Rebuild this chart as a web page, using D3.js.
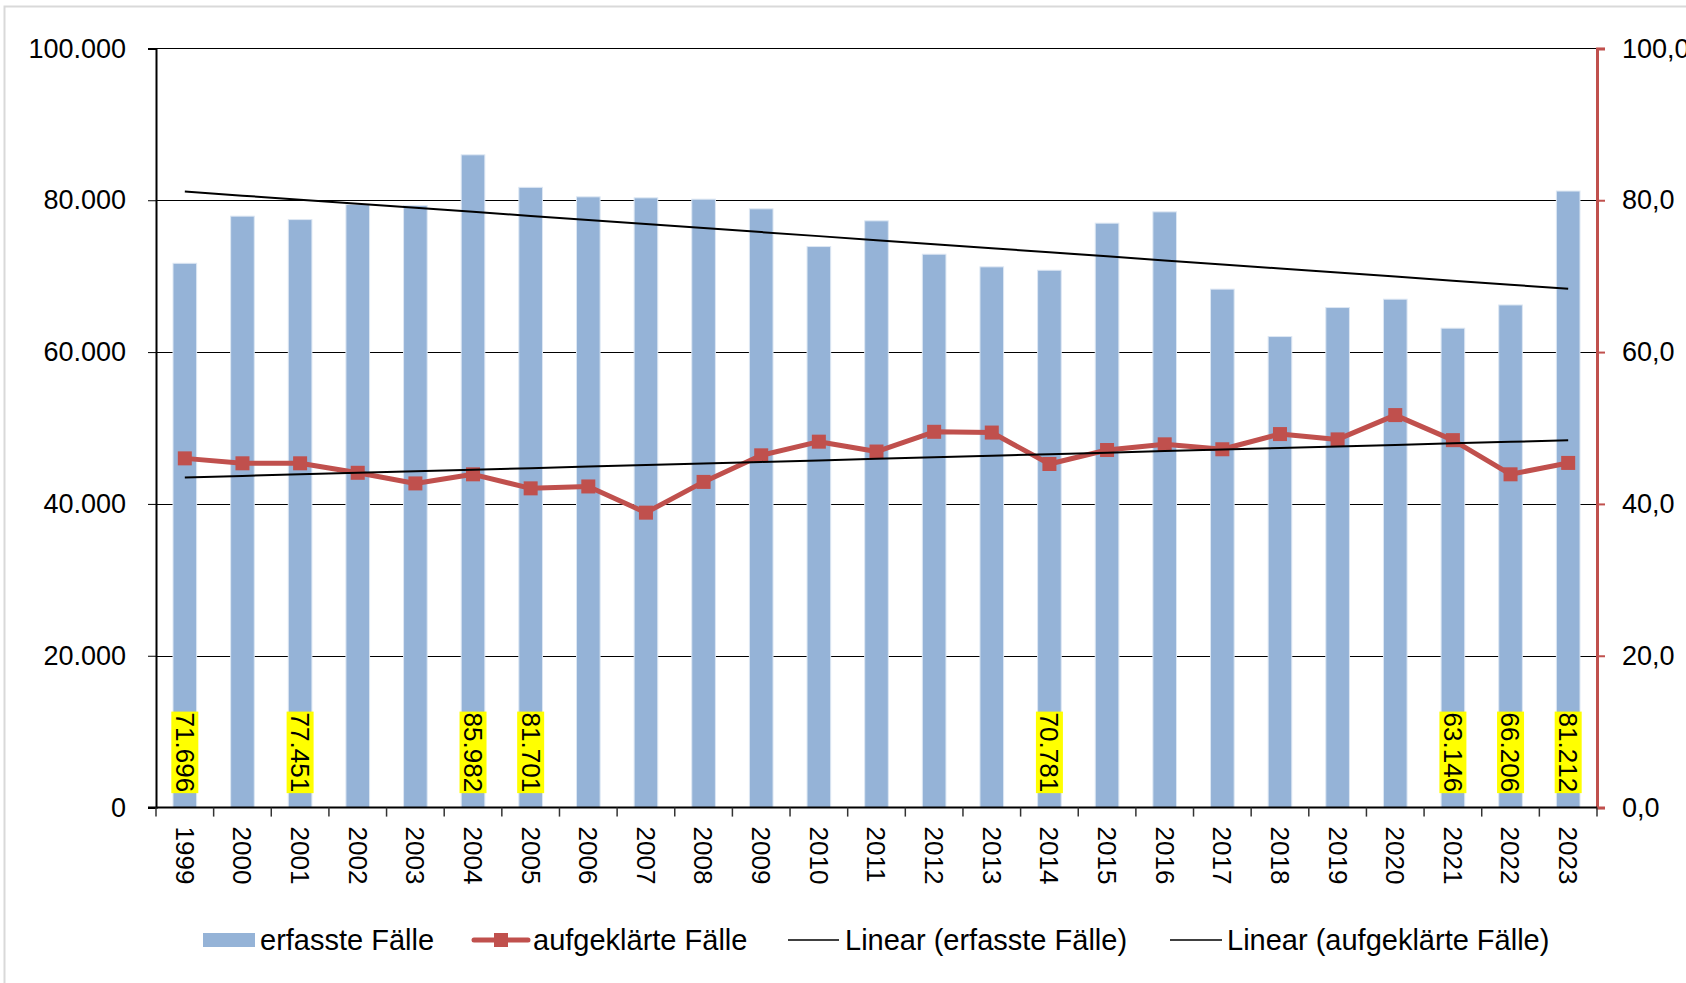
<html>
  <head>
    <script src="https://d3js.org/d3.v7.min.js"></script>
    <style>
      body { margin: 0; background: white; }
      svg { font-family: "Liberation Sans", Arial, sans-serif; }
      .grid line { stroke: black; stroke-width: 1; shape-rendering: crispEdges; }
    </style>
  </head>
  <body>
    <script type="text/javascript">
      // input data
      var years = ["1999", "2000", "2001", "2002", "2003", "2004", "2005", "2006", "2007", "2008",
                   "2009", "2010", "2011", "2012", "2013", "2014", "2015", "2016", "2017", "2018",
                   "2019", "2020", "2021", "2022", "2023"];
      var erfasst = [71696, 77905, 77451, 79437, 79305, 85982, 81701, 80448, 80316, 80140,
                     78867, 73900, 77286, 72890, 71225, 70781, 76980, 78470, 68290, 62045,
                     65866, 66965, 63146, 66206, 81212];
      var aufgeklaert = [46.0, 45.35, 45.35, 44.1, 42.7, 43.9, 42.05, 42.3, 38.85, 42.9,
                         46.4, 48.2, 46.9, 49.5, 49.4, 45.26, 47.1, 47.85, 47.2, 49.2,
                         48.5, 51.7, 48.4, 43.9, 45.4];
      // years whose bar value is printed
      var labelledYears = ["1999", "2001", "2004", "2005", "2014", "2021", "2022", "2023"];
      var leftTicks = [0, 20000, 40000, 60000, 80000, 100000];
      var rightTicks = [0, 20, 40, 60, 80, 100];
      var legendNames = ["erfasste Fälle", "aufgeklärte Fälle", "Linear (erfasste Fälle)", "Linear (aufgeklärte Fälle)"];

      var width = 1686;
      var height = 983;
      var plot = {left: 156, right: 1597, top: 48.4, bottom: 807.6};

      var barColor = "#95b3d7";
      var lineColor = "#c0504d";

      var de = d3.formatLocale({decimal: ",", thousands: ".", grouping: [3], currency: ["", " €"]});
      var fmtInt = de.format(",.0f");
      var fmtOne = de.format(".1f");

      var svg = d3.select("body").append("svg")
        .attr("width", width)
        .attr("height", height);

      // outer chart border
      svg.append("rect")
        .attr("x", 4.5).attr("y", 6.5)
        .attr("width", 1690).attr("height", 1000)
        .attr("fill", "white")
        .attr("stroke", "#d9d9d9")
        .attr("stroke-width", 2);

      var x = d3.scaleBand()
        .domain(years)
        .range([plot.left, plot.right])
        .padding(0);

      var y = d3.scaleLinear()
        .domain([0, 100000])
        .range([plot.bottom, plot.top]);

      var y2 = d3.scaleLinear()
        .domain([0, 100])
        .range([plot.bottom, plot.top]);

      var bw = x.bandwidth();
      var barW = bw * 0.41;

      // gridlines
      var gridAxis = d3.axisLeft(y)
        .tickValues(leftTicks.slice(1))
        .tickFormat("")
        .tickSize(-(plot.right - plot.left));
      var grid = svg.append("g")
        .attr("class", "grid")
        .attr("transform", "translate(" + plot.left + ",0)")
        .call(gridAxis);
      grid.select(".domain").remove();

      // bars
      svg.append("g").selectAll("rect")
        .data(years)
        .enter().append("rect")
        .attr("x", (d, i) => x(d) + (bw - barW) / 2)
        .attr("y", (d, i) => y(erfasst[i]))
        .attr("width", barW)
        .attr("height", (d, i) => y(0) - y(erfasst[i]))
        .attr("fill", barColor)
        .attr("stroke", "#dde7f3")
        .attr("stroke-width", 1);

      // data labels inside the bars
      var labels = svg.append("g");
      years.forEach(function (yr, i) {
        if (labelledYears.indexOf(yr) < 0) return;
        var cx = x(yr) + bw / 2;
        var g = labels.append("g")
          .attr("transform", "translate(" + cx + "," + (plot.bottom - 96) + ") rotate(90)");
        var t = g.append("text")
          .text(fmtInt(erfasst[i]))
          .attr("x", 1)
          .attr("y", 0)
          .attr("dy", "0.35em")
          .attr("font-size", "26px")
          .attr("fill", "black");
        var len = t.node().getComputedTextLength();
        g.insert("rect", "text")
          .attr("x", 0)
          .attr("y", -13.5)
          .attr("width", len + 2)
          .attr("height", 27)
          .attr("fill", "#ffff00");
      });

      // trend lines (least squares, like the spreadsheet's linear trend)
      function linearFit(values) {
        var mx = d3.mean(values, (v, i) => i);
        var my = d3.mean(values);
        var sxy = d3.sum(values, (v, i) => (i - mx) * (v - my));
        var sxx = d3.sum(values, (v, i) => (i - mx) * (i - mx));
        var b = sxy / sxx;
        var a = my - b * mx;
        return values.map((v, i) => a + b * i);
      }

      var trendErf = linearFit(erfasst);
      var trendAuf = linearFit(aufgeklaert);

      var lineLeft = d3.line()
        .x((d, i) => x(years[i]) + bw / 2)
        .y(d => y(d));
      var lineRight = d3.line()
        .x((d, i) => x(years[i]) + bw / 2)
        .y(d => y2(d));

      svg.append("path")
        .datum(trendErf)
        .attr("fill", "none")
        .attr("stroke", "black")
        .attr("stroke-width", 2)
        .attr("d", lineLeft);

      // aufgeklaerte line with square markers
      svg.append("path")
        .datum(aufgeklaert)
        .attr("fill", "none")
        .attr("stroke", lineColor)
        .attr("stroke-width", 5)
        .attr("stroke-linejoin", "round")
        .attr("d", lineRight);

      svg.append("g").selectAll("rect")
        .data(aufgeklaert)
        .enter().append("rect")
        .attr("x", (d, i) => x(years[i]) + bw / 2 - 7)
        .attr("y", d => y2(d) - 7)
        .attr("width", 14)
        .attr("height", 14)
        .attr("fill", lineColor);

      svg.append("path")
        .datum(trendAuf)
        .attr("fill", "none")
        .attr("stroke", "black")
        .attr("stroke-width", 2)
        .attr("d", lineRight);

      // left axis
      var yAxis = d3.axisLeft(y)
        .tickValues(leftTicks)
        .tickFormat(fmtInt)
        .tickSize(8)
        .tickPadding(22);
      var yAxisGroup = svg.append("g")
        .attr("transform", "translate(" + plot.left + ",0)")
        .call(yAxis);
      yAxisGroup.select(".domain").attr("stroke-width", 2);
      yAxisGroup.selectAll("text").attr("font-size", "27px").attr("font-family", "Liberation Sans, Arial, sans-serif").attr("fill", "black");

      // right axis
      var y2Axis = d3.axisRight(y2)
        .tickValues(rightTicks)
        .tickFormat(fmtOne)
        .tickSize(8)
        .tickPadding(17);
      var y2AxisGroup = svg.append("g")
        .attr("transform", "translate(" + plot.right + ",0)")
        .call(y2Axis);
      y2AxisGroup.select(".domain").attr("stroke", lineColor).attr("stroke-width", 3);
      y2AxisGroup.selectAll(".tick line").attr("stroke", lineColor).attr("stroke-width", 2);
      y2AxisGroup.selectAll("text").attr("font-size", "27px").attr("font-family", "Liberation Sans, Arial, sans-serif").attr("fill", "black");

      // x axis
      var xAxisGroup = svg.append("g")
        .attr("transform", "translate(0," + plot.bottom + ")");
      xAxisGroup.append("line")
        .attr("x1", plot.left - 8).attr("x2", plot.right)
        .attr("stroke", "black").attr("stroke-width", 2);
      xAxisGroup.selectAll(".xtick")
        .data(years.concat(["end"]))
        .enter().append("line")
        .attr("x1", (d, i) => plot.left + i * bw)
        .attr("x2", (d, i) => plot.left + i * bw)
        .attr("y1", 0).attr("y2", 9)
        .attr("stroke", "#333").attr("stroke-width", 1.5);
      xAxisGroup.selectAll(".xlabel")
        .data(years)
        .enter().append("text")
        .text(d => d)
        .attr("transform", d => "translate(" + (x(d) + bw / 2) + ",19) rotate(90)")
        .attr("dy", "0.35em")
        .attr("font-size", "26px")
        .attr("fill", "black");

      // legend
      var legend = svg.append("g").attr("font-size", "29px");
      var ly = 940;
      legend.append("rect")
        .attr("x", 203).attr("y", ly - 7).attr("width", 52).attr("height", 14)
        .attr("fill", barColor);
      legend.append("text").text(legendNames[0]).attr("x", 260).attr("y", ly).attr("dy", "0.35em");

      legend.append("line")
        .attr("x1", 474).attr("x2", 528).attr("y1", ly).attr("y2", ly)
        .attr("stroke", lineColor).attr("stroke-width", 5).attr("stroke-linecap", "round");
      legend.append("rect")
        .attr("x", 501 - 7).attr("y", ly - 7).attr("width", 14).attr("height", 14)
        .attr("fill", lineColor);
      legend.append("text").text(legendNames[1]).attr("x", 533).attr("y", ly).attr("dy", "0.35em");

      legend.append("line")
        .attr("x1", 788).attr("x2", 839).attr("y1", ly).attr("y2", ly)
        .attr("stroke", "black").attr("stroke-width", 1.5);
      legend.append("text").text(legendNames[2]).attr("x", 845).attr("y", ly).attr("dy", "0.35em");

      legend.append("line")
        .attr("x1", 1170).attr("x2", 1222).attr("y1", ly).attr("y2", ly)
        .attr("stroke", "black").attr("stroke-width", 1.5);
      legend.append("text").text(legendNames[3]).attr("x", 1227).attr("y", ly).attr("dy", "0.35em");
    </script>
  </body>
</html>
